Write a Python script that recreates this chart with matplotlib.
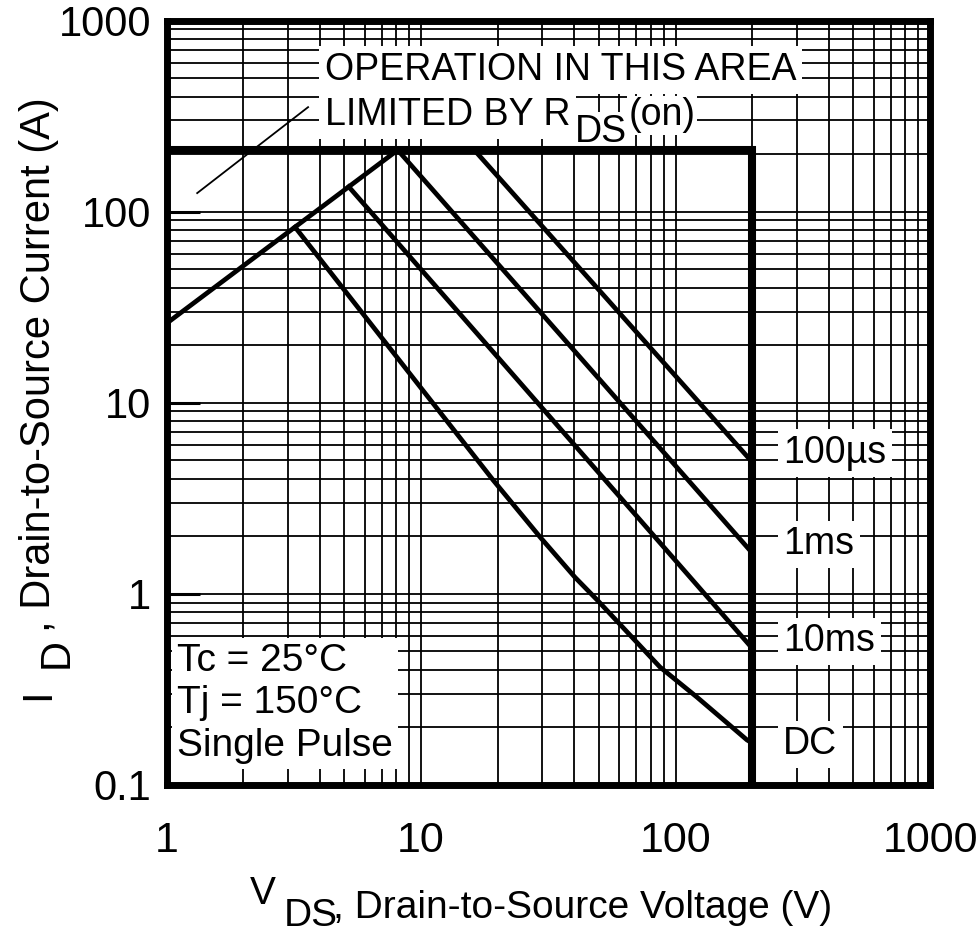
import matplotlib
matplotlib.use("Agg")
import matplotlib.pyplot as plt
from matplotlib.ticker import LogLocator, NullFormatter, FixedFormatter, FixedLocator

plt.rcParams['font.family'] = ['Liberation Sans', 'DejaVu Sans']

# safe operating area
v_rds = [1, 8.1]
i_rds = [26, 210]

v_limit = [1, 200, 200]
i_limit = [210, 210, 0.1]

v_100us = [16.2, 200]
i_100us = [210, 4.9]

v_1ms = [8.1, 200]
i_1ms = [210, 1.64]

v_10ms = [5.2, 200]
i_10ms = [135, 0.52]

v_dc = [3.2, 19.2, 29.4, 40.3, 49.2, 86.9, 121.5, 191, 200]
i_dc = [83, 3.94, 1.98, 1.22, 0.93, 0.414, 0.288, 0.172, 0.166]

curve_names = ['100µs', '1ms', '10ms', 'DC']
curve_label_i = [4.84, 1.61, 0.50, 0.145]

x_ticks = [1, 10, 100, 1000]
x_ticklabels = ['1', '10', '100', '1000']
y_ticks = [0.1, 1, 10, 100, 1000]
y_ticklabels = ['0.1', '1', '10', '100', '1000']

W, H = 977, 936
fig = plt.figure(figsize=(W / 100, H / 100), dpi=100)
ax = fig.add_axes([166.5 / W, 1 - 785 / H, (930 - 166.5) / W, (785 - 20.5) / H])
ax.set_xscale('log')
ax.set_yscale('log')
ax.set_xlim(1, 1000)
ax.set_ylim(0.1, 1000)
ax.set_axisbelow(True)

ax.xaxis.set_major_locator(FixedLocator(x_ticks))
ax.xaxis.set_major_formatter(FixedFormatter(x_ticklabels))
ax.yaxis.set_major_locator(FixedLocator(y_ticks))
ax.yaxis.set_major_formatter(FixedFormatter(y_ticklabels))
ax.xaxis.set_minor_locator(LogLocator(base=10, subs=range(2, 10), numticks=20))
ax.yaxis.set_minor_locator(LogLocator(base=10, subs=range(2, 10), numticks=20))
ax.xaxis.set_minor_formatter(NullFormatter())
ax.yaxis.set_minor_formatter(NullFormatter())

ax.grid(True, which='both', color='black', linewidth=1.3)
ax.tick_params(axis='x', which='both', length=0, pad=26, labelsize=31)
ax.tick_params(axis='y', which='major', direction='in', length=24, width=2.2,
               pad=11, labelsize=30)
ax.tick_params(axis='y', which='minor', length=0)
for s in ax.spines.values():
    s.set_linewidth(5)

# limits and curves
ax.plot(v_limit, i_limit, color='black', lw=5.8, solid_joinstyle='miter', zorder=6)
ax.plot(v_rds, i_rds, color='black', lw=3.4, zorder=3)
ax.plot(v_100us, i_100us, color='black', lw=3.4, zorder=3)
ax.plot(v_1ms, i_1ms, color='black', lw=3.4, zorder=3)
ax.plot(v_10ms, i_10ms, color='black', lw=3.4, zorder=3)
ax.plot(v_dc, i_dc, color='black', lw=3.4, zorder=3)

# pointer to the RDS(on) region
ax.plot([1.32, 3.6], [125, 352], color='black', lw=1.3, zorder=3)

box = dict(facecolor='white', edgecolor='none', pad=4)
tight = dict(facecolor='white', edgecolor='none', pad=1)
ax.text(4.2, 551, 'OPERATION IN THIS AREA', fontsize=27, va='center', ha='left',
        bbox=box, zorder=5)
t1 = ax.text(4.2, 320, 'LIMITED BY R', fontsize=27, va='center', ha='left',
             bbox=box, zorder=5)
t2 = ax.annotate('DS', xy=(1, 0), xycoords=t1, xytext=(3, -12),
                 textcoords='offset points', fontsize=27, va='bottom', ha='left',
                 bbox=tight, zorder=5)
ax.annotate('(on)', xy=(1, 0), xycoords=t2, xytext=(1, 12),
            textcoords='offset points', fontsize=27, va='bottom', ha='left',
            bbox=tight, zorder=5)

for name, yv in zip(curve_names, curve_label_i):
    ax.text(265, yv, name, fontsize=27, va='baseline', ha='left', bbox=box, zorder=5)

ax.text(1.1, 0.553, 'Tc = 25°C\nTj = 150°C\nSingle Pulse', fontsize=28,
        va='top', ha='left', linespacing=1.23, bbox=dict(facecolor='white',
        edgecolor='none', pad=4), zorder=5)

# x axis label
fig.text(250 / W, 1 - 904 / H, 'V', fontsize=28, va='baseline', ha='left')
fig.text(284 / W, 1 - 926 / H, 'DS', fontsize=28, va='baseline', ha='left')
fig.text(333 / W, 1 - 918 / H, ', Drain-to-Source Voltage (V)', fontsize=28,
         va='baseline', ha='left')

# y axis label
fig.text(49 / W, 1 - 700 / H, 'I', fontsize=30, rotation=90, rotation_mode='anchor',
         va='baseline', ha='left')
fig.text(68 / W, 1 - 668 / H, 'D', fontsize=30, rotation=90, rotation_mode='anchor',
         va='baseline', ha='left')
fig.text(50 / W, 1 - 632 / H, ', Drain-to-Source Current (A)', fontsize=30,
         rotation=90, rotation_mode='anchor', va='baseline', ha='left')

fig.savefig('out.png', dpi=100)
